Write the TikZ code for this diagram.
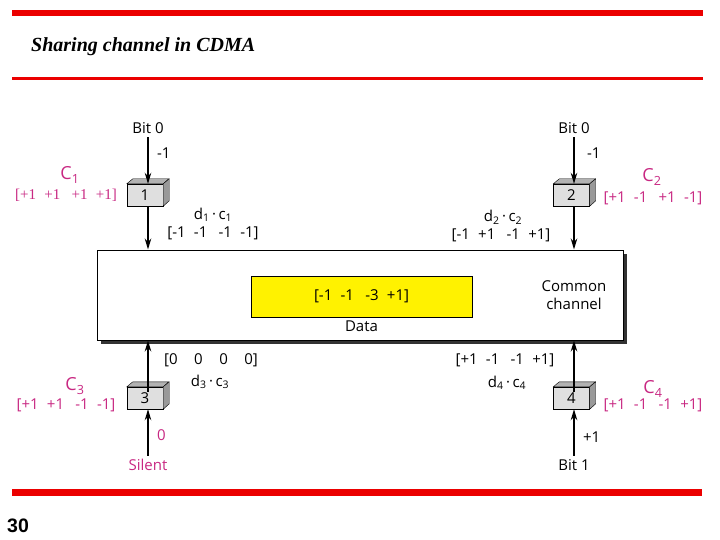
\documentclass[tikz,border=0pt]{standalone}
\usepackage{fontspec}
\setmainfont{Open Sans}
\newfontfamily\titlefont{Liberation Serif}
\newfontfamily\pagefont{Liberation Sans}
\usetikzlibrary{arrows.meta, positioning, shadows}
\definecolor{codepink}{RGB}{200,40,130}
\definecolor{slidered}{RGB}{235,0,0}
\newcommand{\gp}{\hspace{0.55em}}
\newcommand{\wgp}{\hspace{0.75em}}

\begin{document}
\begin{tikzpicture}[
    x=1pt, y=-1pt,
    >={Stealth[length=11pt,width=6.5pt]},
    font=\fontsize{15}{18}\selectfont,
    station/.style={
        draw,
        rectangle,
        minimum height=22pt,
        minimum width=36pt,
        fill=gray!25,
        inner sep=0pt
    },
    channel/.style={
        draw,
        line width=1pt,
        minimum width=526pt,
        minimum height=90pt,
        fill=white,
        drop shadow={shadow xshift=4pt, shadow yshift=-4pt, fill=black!80, opacity=1}
    },
    data/.style={
        draw,
        fill=yellow,
        minimum width=221pt,
        minimum height=41pt
    },
    code/.style={text=codepink},
    chip/.style={code, font=\fontsize{18}{20}\selectfont},
    arrow/.style={->, line width=1.4pt},
    bar/.style={fill=slidered}
]
\useasboundingbox (0,0) rectangle (720,540);

% slide frame
\fill[bar] (12,10) rectangle (703,16);
\fill[bar] (12,77) rectangle (703,80);
\fill[bar] (12,489) rectangle (702,496);
\node[anchor=base west, inner sep=0pt, font=\titlefont\fontsize{20}{24}\selectfont\bfseries\itshape] (title) at (31,52) {Sharing channel in CDMA};
\node[anchor=base west, inner sep=0pt, font=\pagefont\fontsize{19.5}{22}\selectfont\bfseries] (page) at (7,532) {30};

% common channel
\node[channel] (ch) at (360,295) {};
\node[data] (sum) at (361.5,296.5) {[-1\gp-1\wgp-3\gp+1]};
\node[below=0pt of sum] (datalbl) {Data};
\node[align=center] (common) at (574,295) {Common\\channel};

% stations
\node[station] (s1) at (145,195) {1};
\node[station] (s2) at (571.5,195) {2};
\node[station] (s3) at (145,398) {3};
\node[station] (s4) at (571.5,398) {4};
\foreach \s in {s1,s2,s3,s4} {
    \filldraw[fill=gray!60] (\s.north west) -- ++(6,-5) -- ++(36,0) -- (\s.north east) -- cycle;
    \filldraw[fill=gray!80] (\s.north east) -- ++(6,-5) -- ++(0,22) -- (\s.south east) -- cycle;
}

% inputs
\node (in1) at (148,128) {Bit 0};
\node (in2) at (574,128) {Bit 0};
\node[code] (in3) at (148,465) {Silent};
\node (in4) at (574,465) {Bit 1};

\draw[arrow] (in1) -- node[right=5pt, pos=.35] {-1} (in1 |- s1.north);
\draw[arrow] (in2) -- node[right=9pt, pos=.35] {-1} (in2 |- s2.north);
\draw[arrow] (in3) -- node[code, right=5pt, pos=.45] {0} (in3 |- s3.south);
\draw[arrow] (in4) -- node[right=5pt, pos=.4] {+1} (in4 |- s4.south);

\draw[arrow] (in1 |- s1.south) -- (in1 |- ch.north);
\draw[arrow] (in2 |- s2.south) -- (in2 |- ch.north);
\draw[arrow, shorten <=-5pt] (in3 |- s3.north) -- (in3 |- ch.south);
\draw[arrow, shorten <=-5pt] (in4 |- s4.north) -- (in4 |- ch.south);

% codes
\node[chip] (c1) at (70,175) {C\textsubscript{1}};
\node[code, font=\titlefont\fontsize{15}{18}\selectfont] (v1) at (66,195) {[+1\gp+1\wgp+1\gp+1]};
\node[chip] (c2) at (652,177) {C\textsubscript{2}};
\node[code] (v2) at (653,198) {[+1\gp-1\wgp+1\gp-1]};
\node[chip] (c3) at (75,386) {C\textsubscript{3}};
\node[code] (v3) at (66,405) {[+1\gp+1\wgp-1\gp-1]};
\node[chip] (c4) at (653,389) {C\textsubscript{4}};
\node[code] (v4) at (653,405) {[+1\gp-1\wgp-1\gp+1]};

% products
\node (p1) at (213,215) {d\textsubscript{1}\,·\,c\textsubscript{1}};
\node (q1) at (213,233) {[-1\gp-1\wgp-1\gp-1]};
\node (p2) at (503,217) {d\textsubscript{2}\,·\,c\textsubscript{2}};
\node (q2) at (501,235) {[-1\gp+1\wgp-1\gp+1]};
\node (q3) at (211,360) {[0\hspace{1.1em}0\hspace{1.1em}0\hspace{1.1em}0]};
\node (p3) at (210,382) {d\textsubscript{3}\,·\,c\textsubscript{3}};
\node (q4) at (505,360) {[+1\gp-1\wgp-1\gp+1]};
\node (p4) at (507,383) {d\textsubscript{4}\,·\,c\textsubscript{4}};

\end{tikzpicture}
\end{document}
